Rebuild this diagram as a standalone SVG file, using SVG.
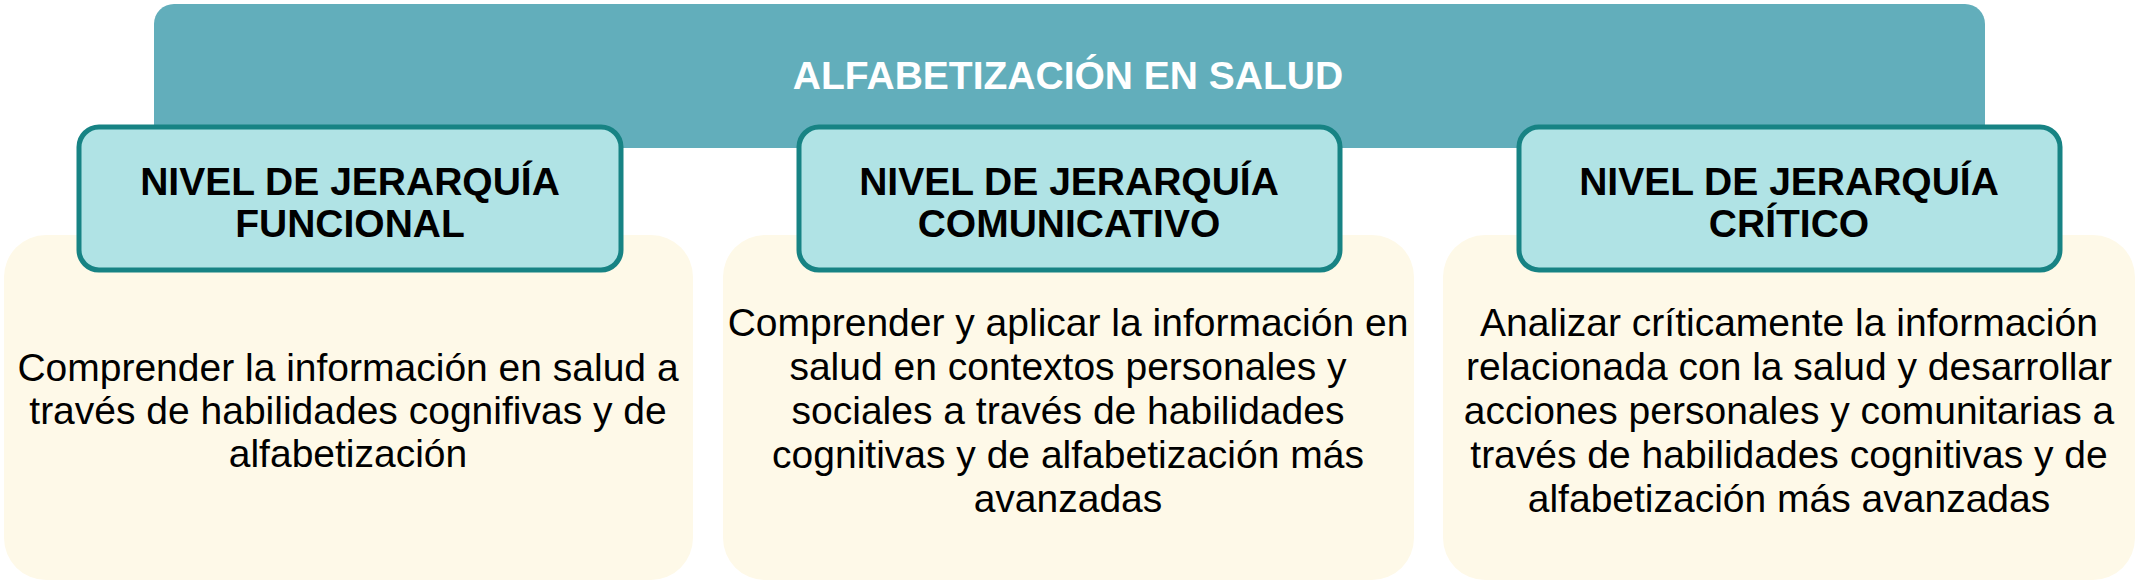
<svg xmlns="http://www.w3.org/2000/svg" width="2139" height="585" viewBox="0 0 2139 585">
<style>
.bg{fill:#ffffff}
.banner{fill:#62aebb}
.card{fill:#fef9e8}
.level{fill:#b0e3e5;stroke:#178384;stroke-width:5}
.title{font-family:"Liberation Sans",Arial,sans-serif;font-weight:bold;font-size:39px;fill:#ffffff;text-anchor:middle}
.lt{font-family:"Liberation Sans",Arial,sans-serif;font-weight:bold;font-size:39px;fill:#000000;text-anchor:middle}
.bt{font-family:"Liberation Sans",Arial,sans-serif;font-size:39px;fill:#000000;text-anchor:middle}
</style>
<rect class="bg" x="0" y="0" width="2139" height="585"/>
<g id="banner">
<rect class="banner" x="154" y="4" width="1831" height="144" rx="20"/>
<text class="title" x="1068" y="89">ALFABETIZACIÓN EN SALUD</text>
</g>
<g id="card1">
<rect class="card" x="4" y="235" width="689" height="345" rx="42"/>
<text class="bt" x="348" y="381">Comprender la información en salud a</text>
<text class="bt" x="348" y="424">través de habilidades cognifivas y de</text>
<text class="bt" x="348" y="467">alfabetización</text>
</g>
<g id="card2">
<rect class="card" x="723" y="235" width="691" height="345" rx="42"/>
<text class="bt" x="1068" y="336">Comprender y aplicar la información en</text>
<text class="bt" x="1068" y="380">salud en contextos personales y</text>
<text class="bt" x="1068" y="424">sociales a través de habilidades</text>
<text class="bt" x="1068" y="468">cognitivas y de alfabetización más</text>
<text class="bt" x="1068" y="512">avanzadas</text>
</g>
<g id="card3">
<rect class="card" x="1443" y="235" width="692" height="345" rx="42"/>
<text class="bt" x="1789" y="336">Analizar críticamente la información</text>
<text class="bt" x="1789" y="380">relacionada con la salud y desarrollar</text>
<text class="bt" x="1789" y="424">acciones personales y comunitarias a</text>
<text class="bt" x="1789" y="468">través de habilidades cognitivas y de</text>
<text class="bt" x="1789" y="512">alfabetización más avanzadas</text>
</g>
<g id="level1">
<rect class="level" x="79" y="127" width="542" height="143" rx="20"/>
<text class="lt" x="350" y="195">NIVEL DE JERARQUÍA</text>
<text class="lt" x="350" y="237">FUNCIONAL</text>
</g>
<g id="level2">
<rect class="level" x="799" y="127" width="541" height="143" rx="20"/>
<text class="lt" x="1069" y="195">NIVEL DE JERARQUÍA</text>
<text class="lt" x="1069" y="237">COMUNICATIVO</text>
</g>
<g id="level3">
<rect class="level" x="1519" y="127" width="541" height="143" rx="20"/>
<text class="lt" x="1789" y="195">NIVEL DE JERARQUÍA</text>
<text class="lt" x="1789" y="237">CRÍTICO</text>
</g>
<g id="connectors"></g>
</svg>
